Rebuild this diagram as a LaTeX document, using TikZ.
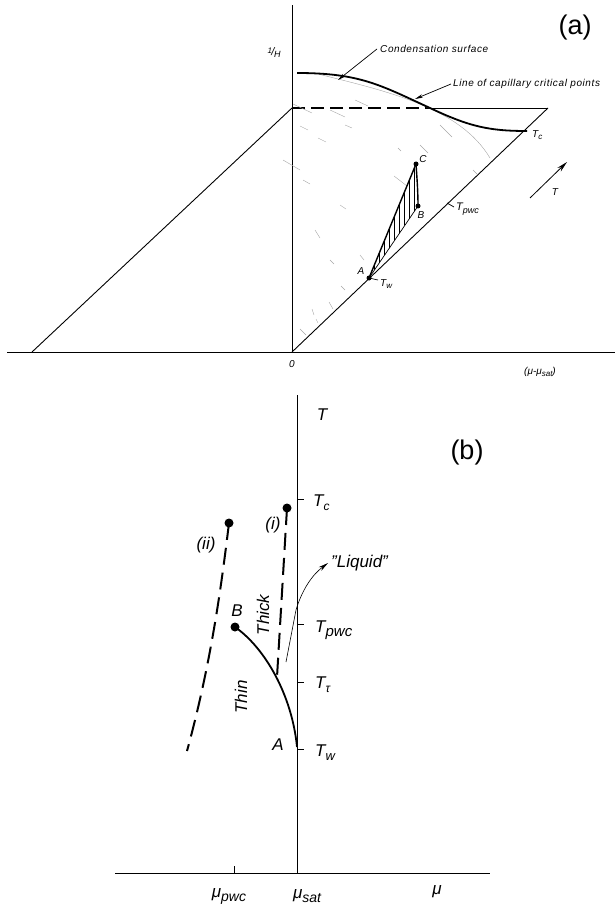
\documentclass[tikz,border=0pt]{standalone}
\usepackage{fontspec}
\setmainfont{Liberation Sans}
\newfontfamily\widelab[LetterSpace=6]{Liberation Sans}
\usetikzlibrary{arrows.meta}
\begin{document}
\begin{tikzpicture}[x=1pt,y=-1pt,
  axis/.style={line width=0.9pt},
  thickc/.style={line width=1.8pt},
  thinline/.style={line width=0.7pt},
  faint/.style={black!35, line width=0.4pt},
  hatchl/.style={line width=0.35pt},
  dashA/.style={line width=1.3pt, dash pattern=on 13pt off 6pt},
  dashB/.style={line width=2pt, dash pattern=on 17pt off 8pt},
  slab/.style={font=\fontsize{10}{11}\selectfont\itshape, inner sep=0pt},
  wlab/.style={font=\widelab\fontsize{10}{11}\selectfont\itshape, inner sep=0pt},
  mlab/.style={font=\fontsize{11}{12}\selectfont\itshape, inner sep=0pt},
  blab/.style={font=\fontsize{17}{18}\selectfont\itshape, inner sep=0pt},
  panel/.style={font=\fontsize{27}{28}\selectfont, inner sep=0pt},
  adot/.style={circle, fill, inner sep=0pt, minimum size=5pt},
  bdot/.style={circle, fill, inner sep=0pt, minimum size=9pt},
  ptr/.style={line width=0.7pt, -{Stealth[length=8pt,width=3.5pt]}}
]
\useasboundingbox (0,0) rectangle (615,909);

% ================= (a) =================
\coordinate (O) at (292,352);
\coordinate (Ytop) at (292,5);
\coordinate (Xl) at (7,352);
\coordinate (Xr) at (615,352);
\coordinate (L0) at (32,352);
\coordinate (Lt) at (292,108);
\coordinate (Dm) at (430,108);
\coordinate (Rt) at (548,108);
\draw[axis] (Xl) -- (Xr);
\draw[axis] (O) -- (Ytop);
\draw[axis] (L0) -- (Lt);
\draw[axis] (O) -- (Rt);
\draw[dashA] (Lt) -- (Dm);
\draw[axis] (Dm) -- (Rt);

% faint shading strokes
\foreach \a/\b/\c/\d in {293/104/312/113, 300/126/308/130, 318/138/326/142,
  283/160/300/170, 303/180/310/184, 330/110/345/117, 345/125/352/128,
  355/100/368/106, 398/148/401/151, 394/176/407/186, 420/145/428/153,
  440/125/452/137, 473/170/477/174, 340/205/346/209, 315/230/320/238,
  300/329/306/335, 312/309/314/315, 316/319/318/323, 329/302/333/309,
  341/286/345/290, 360/255/364/260, 330/260/334/264}
  \draw[faint] (\a,\b) -- (\c,\d);
\draw[faint] (318,74) .. controls (390,92) and (460,108) .. (490,158);

% condensation surface
\coordinate (Cs) at (297,73);
\coordinate (Tc) at (527,131);
\draw[thickc] (Cs) .. controls (360,73) and (380,85) .. (Dm)
  .. controls (470,127) and (490,131) .. (Tc);

\node[wlab, anchor=west] (condlab) at (380,49) {Condensation surface};
\coordinate (condtip) at (338,80);
\draw[ptr] ([xshift=-3pt]condlab.west) -- (condtip);
\node[wlab, anchor=west] (linelab) at (453,84) {Line of capillary critical points};
\coordinate (linetip) at (415,99);
\draw[ptr] ([xshift=-2pt]linelab.west) -- (linetip);

\node[panel] (pa) at (575,28) {(a)};
\node[mlab] (invH) at (274,53) {\raisebox{2.5pt}{\fontsize{8}{8}\selectfont 1}\kern-0.5pt/\kern-0.5pt\raisebox{-2pt}{\fontsize{9}{9}\selectfont H}};
\node[slab] (zero) at (292,364) {0};
\node[slab] (mux) at (540,372) {(μ-μ\raisebox{-2pt}{\fontsize{8}{8}\selectfont sat})};
\node[slab, anchor=west] (tclab) at (532,135) {T\raisebox{-2pt}{\fontsize{8}{8}\selectfont c}};

% T arrow
\coordinate (Ta) at (530,198);
\coordinate (Tb) at (567,162);
\draw[line width=0.8pt, -{Stealth[length=11pt,width=5pt]}] (Ta) -- (Tb);
\node[slab] (tlab) at (555,192) {T};

% triangle A-C-B
\coordinate (A) at (369,278);
\coordinate (C) at (416,164);
\coordinate (B) at (418,206);
\begin{scope}
  \clip (A) -- (C) .. controls (417,178) and (418,192) .. (B) -- cycle;
  \foreach \x in {374,379,...,420}
    \draw[hatchl] (\x,150) -- (\x,290);
\end{scope}
\draw[line width=1.4pt] (A) -- (C);
\draw[line width=1.4pt] (C) .. controls (417,178) and (418,192) .. (B);
\draw[thinline] (B) -- (A);
\node[adot] (Cd) at (C) {};
\node[adot] (Bd) at (B) {};
\node[adot] (Ad) at (A) {};
\node[slab] (Clab) at (423,159) {C};
\node[slab] (Blab) at (421,215) {B};
\node[slab] (Alab) at (361,271) {A};
\coordinate (twt) at (378,280);
\draw[thinline] (A) -- (twt);
\node[slab, anchor=west] (twlab) at (380,284) {T\raisebox{-2pt}{\fontsize{8}{8}\selectfont w}};
\coordinate (pw1) at (447,203);
\coordinate (pw2) at (454,207);
\draw[thinline] (pw1) -- (pw2);
\node[mlab, anchor=west] (tpwclab) at (456,209) {T\raisebox{-2.5pt}{\fontsize{9}{9}\selectfont pwc}};

% ================= (b) =================
\coordinate (bO) at (297,873);
\coordinate (bTop) at (297,395);
\coordinate (bXl) at (115,873);
\coordinate (bXr) at (490,873);
\draw[axis] (bXl) -- (bXr);
\draw[axis] (bO) -- (bTop);
\coordinate (mp) at (234,873);
\coordinate (mpt) at (234,866);
\draw[axis] (mp) -- (mpt);

\foreach \y/\nm in {499/c, 624/p, 682/t, 749/w}{
  \coordinate (tk\nm) at (297,\y);
  \draw[axis] (tk\nm) -- ++(7,0);
}
\node[blab] (bT) at (322,415) {T};
\node[blab, anchor=west] (bTc) at (313,503) {T\raisebox{-4pt}{\fontsize{12}{12}\selectfont c}};
\node[blab, anchor=west] (bTp) at (315,630) {T\raisebox{-4pt}{\fontsize{15}{15}\selectfont pwc}};
\node[blab, anchor=west] (bTt) at (315,685) {T\raisebox{-4pt}{\fontsize{12}{12}\selectfont τ}};
\node[blab, anchor=west] (bTw) at (315,753) {T\raisebox{-4pt}{\fontsize{13}{13}\selectfont w}};

\node[blab] (mupwc) at (229,896) {μ\raisebox{-4pt}{\fontsize{14}{14}\selectfont pwc}};
\node[blab] (musat) at (307,896) {μ\raisebox{-4pt}{\fontsize{14}{14}\selectfont sat}};
\node[blab] (mu) at (437,892) {μ};
\node[panel] (pb) at (467,453) {(b)};

% dashed lines
\coordinate (i1) at (287,508);
\coordinate (i2) at (277,677);
\coordinate (ii1) at (229,523);
\coordinate (ii2) at (187,751);
\draw[dashB] (i1) -- (i2);
\draw[dashB] (ii1) .. controls (222,580) and (212,660) .. (ii2);
\node[bdot] (idot) at (i1) {};
\node[bdot] (iidot) at (ii1) {};

% solid curve B-A
\coordinate (bB) at (235,627);
\coordinate (bA) at (297,747);
\draw[line width=1.8pt] (bB) .. controls (265,648) and (292,695) .. (bA);
\node[bdot] (bBdot) at (bB) {};

\node[blab] (ilab) at (273,525) {(i)};
\node[blab] (iilab) at (206,545) {(ii)};
\node[blab] (Blabb) at (237,611) {B};
\node[blab] (Alabb) at (278,745) {A};
\node[blab, rotate=90] (thick) at (263,615) {Thick};
\node[blab, rotate=90] (thin) at (241,697) {Thin};

% Liquid arrow
\node[blab, anchor=west] (liq) at (331,563) {"Liquid"};
\coordinate (lq0) at (286,662);
\coordinate (lq1) at (296,610);
\draw[line width=0.6pt, -{Stealth[length=10pt,width=4.5pt]}] (lq0) -- (lq1) .. controls (302,590) and (312,575) .. ([xshift=-3pt]liq.west);
\end{tikzpicture}
\end{document}
